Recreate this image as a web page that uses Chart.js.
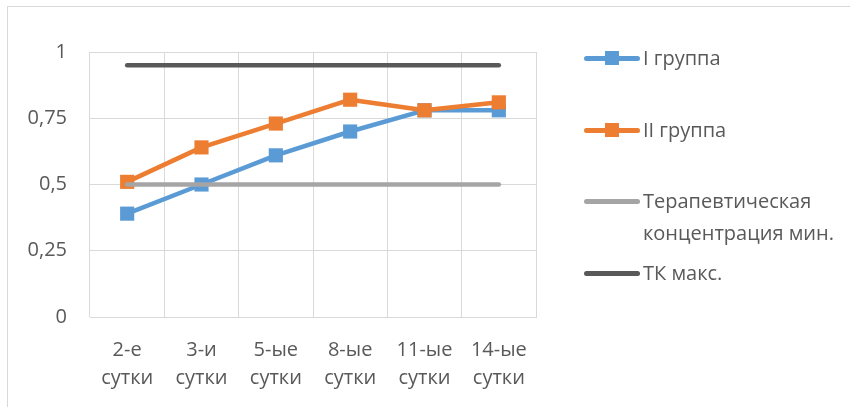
<!DOCTYPE html>
<html>
<head>
<meta charset="utf-8">
<script src="https://cdn.jsdelivr.net/npm/chart.js@4.4.0/dist/chart.umd.min.js"></script>
<style>
  html, body { margin: 0; padding: 0; background: #fff; overflow: hidden; }
  #wrap { position: relative; width: 850px; height: 407px; }
  #frame { position: absolute; left: 7px; top: 6px; width: 900px; height: 500px; border: 1px solid #d9d9d9; }
  #myChart { position: absolute; left: 0; top: 0; }
  #legend { position: absolute; left: 0; top: 0; font-family: "Open Sans", sans-serif; font-size: 20px; color: #595959; }
  .item { position: absolute; left: 584px; }
  .sample { position: absolute; left: 0; width: 56px; height: 5px; border-radius: 3px; }
  .mark { position: absolute; left: 21px; width: 14px; height: 14px; }
  .txt { position: absolute; left: 59px; white-space: nowrap; line-height: 32px; }
</style>
</head>
<body>
<div id="wrap">
  <div id="frame"></div>
  <canvas id="myChart" width="850" height="407"></canvas>
  <div id="legend"></div>
</div>
<script>
// Data
const days = ['2-е сутки', '3-и сутки', '5-ые сутки', '8-ые сутки', '11-ые сутки', '14-ые сутки'];
const group1 = [0.39, 0.50, 0.61, 0.70, 0.78, 0.78];
const group2 = [0.51, 0.64, 0.73, 0.82, 0.78, 0.81];
const tcMin = [0.5, 0.5, 0.5, 0.5, 0.5, 0.5];
const tcMax = [0.95, 0.95, 0.95, 0.95, 0.95, 0.95];
const yTickLabels = ['0', '0,25', '0,5', '0,75', '1'];

const seriesNames = ['I группа', 'II группа', 'Терапевтическая\nконцентрация мин.', 'ТК макс.'];
const seriesColors = ['#5b9bd5', '#ed7d31', '#a5a5a5', '#595959'];

const FONT = { family: '"Open Sans", sans-serif', size: 20 };
const TEXT = '#595959';
const GRID = '#d9d9d9';

const makeSet = (i, data, markers) => ({
  label: seriesNames[i],
  data: data,
  borderColor: seriesColors[i],
  backgroundColor: seriesColors[i],
  borderWidth: 4.5,
  borderCapStyle: 'round',
  borderJoinStyle: 'round',
  pointStyle: 'rect',
  pointRadius: markers ? 10 : 0,
  pointHoverRadius: markers ? 10 : 0,
  pointBorderWidth: 0,
  tension: 0,
  order: 4 - i
});

let ctx = document.getElementById('myChart').getContext('2d');

let chart = new Chart(ctx, {
  type: 'line',
  data: {
    labels: days.map(d => d.split(' ')),
    datasets: [
      makeSet(0, group1, true),
      makeSet(1, group2, true),
      makeSet(2, tcMin, false),
      makeSet(3, tcMax, false)
    ]
  },
  options: {
    responsive: false,
    animation: false,
    events: [],
    layout: { padding: { top: 52, right: 314, bottom: 0, left: 0 } },
    plugins: {
      legend: { display: false },
      tooltip: { enabled: false }
    },
    scales: {
      x: {
        offset: true,
        grid: { offset: true, color: GRID, lineWidth: 1, drawTicks: false },
        border: { color: GRID },
        ticks: {
          color: TEXT,
          font: { ...FONT, lineHeight: 1.4 },
          padding: 19,
          maxRotation: 0,
          autoSkip: false
        },
        afterFit: (scale) => { scale.height = 90; }
      },
      y: {
        min: 0,
        max: 1,
        grid: { color: GRID, lineWidth: 1, drawTicks: false },
        border: { display: false },
        ticks: {
          stepSize: 0.25,
          color: TEXT,
          font: FONT,
          padding: 23,
          callback: (v, i) => yTickLabels[i]
        },
        afterFit: (scale) => { scale.width = 90; }
      }
    }
  }
});

// HTML legend, built from the datasets
const legendTops = [58, 130, 201, 273];
const legend = document.getElementById('legend');
chart.data.datasets.forEach((ds, i) => {
  const item = document.createElement('div');
  item.className = 'item';
  item.style.top = legendTops[i] + 'px';
  let html = '<div class="sample" style="top:-2.5px;background:' + ds.borderColor + '"></div>';
  if (ds.pointRadius > 0) {
    html += '<div class="mark" style="top:-7px;background:' + ds.borderColor + '"></div>';
  }
  html += '<div class="txt" style="top:-16px">' + ds.label.replace('\n', '<br>') + '</div>';
  item.innerHTML = html;
  legend.appendChild(item);
});
</script>
</body>
</html>
